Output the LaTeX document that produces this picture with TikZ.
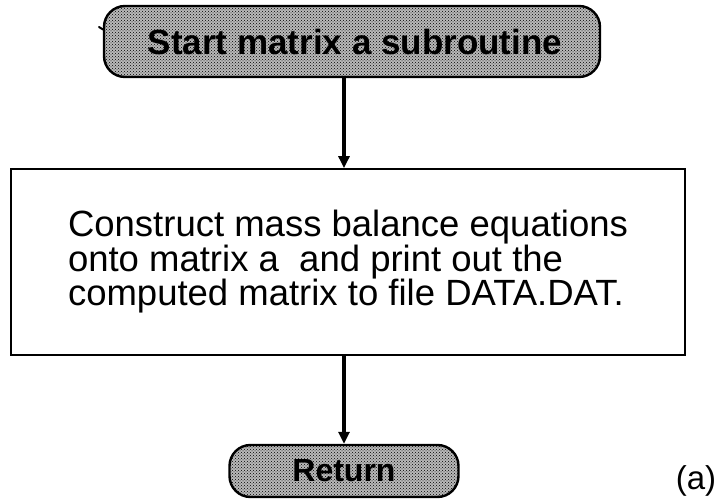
\documentclass[tikz,border=0pt]{standalone}
\usepackage{fontspec}
\setmainfont{Liberation Sans}
\usetikzlibrary{arrows.meta,patterns}
\begin{document}
\begin{tikzpicture}[x=1pt,y=-1pt,
  terminal/.style={draw=black, line width=2.4pt, rounded corners=21pt,
    inner sep=0pt, font=\bfseries\fontsize{35}{36}\selectfont,
    preaction={fill=gray!55}, pattern=crosshatch dots, pattern color=black},
  procbox/.style={draw=black, line width=1.8pt, inner sep=0pt,
    align=left, font=\fontsize{36.5}{34.5}\selectfont},
  flow/.style={line width=3.6pt, -{Triangle[width=11pt,length=12pt]}}]
\useasboundingbox (0,0) rectangle (721,502);

% start terminal
\node[terminal, minimum width=496pt, minimum height=71pt] (start) at (352,41.5)
  {\hspace*{6pt}Start matrix a subroutine};
\draw[line width=2pt, line cap=round] (99,27) -- (103,29.5);

% processing step
\node[procbox, minimum width=674pt, minimum height=186pt] (proc) at (348,262)
  {Construct mass balance equations\\
   onto matrix a \ and print out the\\
   computed matrix to file DATA.DAT.};

% return terminal
\node[terminal, minimum width=229pt, minimum height=52pt,
  font=\bfseries\fontsize{32}{34}\selectfont] (ret) at (344,471) {Return};

% panel label
\node[font=\fontsize{33}{36}\selectfont, inner sep=0pt] (lbl) at (696,481) {(a)};

% connectors
\coordinate (top) at (start.south -| ret.north);
\coordinate (mid) at (proc.south -| ret.north);
\draw[flow] (top) -- (top |- proc.north);
\draw[flow] (mid) -- (ret.north);
\end{tikzpicture}
\end{document}
